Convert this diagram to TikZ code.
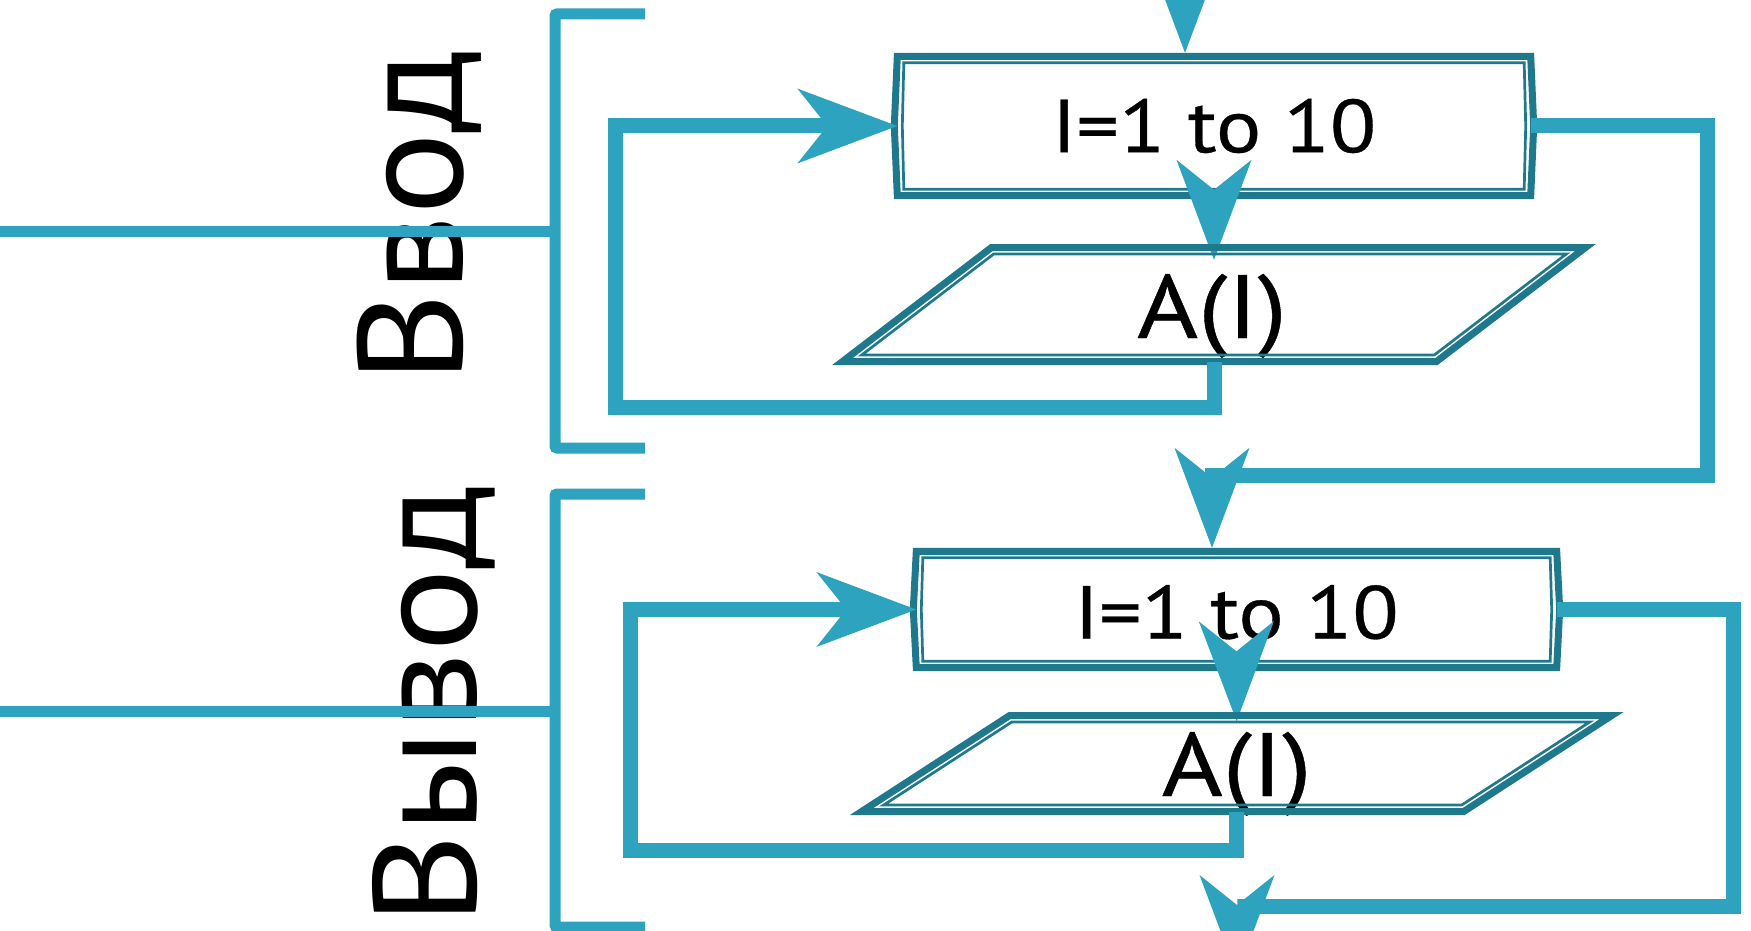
\documentclass[tikz,border=0pt]{standalone}
\usepackage{fontspec}
\usepackage{graphicx}
\setmainfont{PT Sans}
\usetikzlibrary{arrows.meta,calc}
\definecolor{flowblue}{RGB}{45,163,191}
\definecolor{framedark}{RGB}{31,121,140}
\newcommand{\widetext}[2]{\scalebox{#1}[1]{#2}}
\tikzset{
  flowline/.style={draw=flowblue, line width=15pt},
  flowarrow/.style={flowline, -{Stealth[length=100pt,width=75pt,inset=30pt,line width=0pt]}},
  bracketline/.style={draw=flowblue, line width=11pt},
  frameouter/.style={draw=framedark, line width=7pt},
  frameinner/.style={draw=framedark, line width=2.7pt},
  loopnode/.style={rectangle, inner sep=0pt, font=\fontsize{75}{80}\selectfont\addfontfeature{FakeBold=0.4}},
  ionode/.style={rectangle, inner sep=0pt, font=\fontsize{90}{92}\selectfont\addfontfeature{FakeBold=0.4}, text depth=0pt},
  sidelabel/.style={rotate=90, anchor=base, inner sep=0pt},
}
\begin{document}
\begin{tikzpicture}[x=1pt,y=-1pt]
\useasboundingbox (0,0) rectangle (1751,931);

% section captions
\node[sidelabel, xscale=1.04, font=\fontsize{149}{150}\selectfont] (inlabel) at (462,216.5) {Ввод};
\node[sidelabel, xscale=1.065, font=\fontsize{147}{150}\selectfont] (outlabel) at (476,705) {Вывод};

% loop headers and input/output blocks
\node[loopnode, minimum width=633pt, minimum height=139pt] (r1) at (1214,126) {\widetext{1.13}{I=1 to 10}};
\node[ionode, text height=67pt, minimum width=594pt, minimum height=114pt] (p1) at (1212,304.5) {\widetext{1.16}{A(I)}};
\node[loopnode, text height=59pt, minimum width=640pt, minimum height=116pt] (r2) at (1236.5,609.5) {\widetext{1.13}{I=1 to 10}};
\node[ionode, text height=65pt, minimum width=602pt, minimum height=96pt] (p2) at (1236.7,763.5) {\widetext{1.16}{A(I)}};

% first loop header frame
\draw[frameouter] (r1.north west) -- (r1.north east) -- ($(r1.east)+(3,0)$) -- (r1.south east)
  -- (r1.south west) -- ($(r1.west)+(-3,0)$) -- cycle;
\draw[frameinner] ($(r1.north west)+(6.5,6.5)$) -- ($(r1.north east)+(-6.5,6.5)$) -- ($(r1.east)+(-5,0)$)
  -- ($(r1.south east)+(-6.5,-6.5)$) -- ($(r1.south west)+(6.5,-6.5)$) -- ($(r1.west)+(5,0)$) -- cycle;
\draw[flowarrow] (r1.south) -- ($(r1.south |- p1.north)+(0,12.5)$);
% first input block
\draw[frameouter] ($(p1.center)+(-220.5,-57)$) -- ($(p1.center)+(373.5,-57)$)
  -- ($(p1.center)+(224.5,57)$) -- ($(p1.center)+(-369.5,57)$) -- cycle;
\draw[frameinner] ($(p1.center)+(-218.3,-50.5)$) -- ($(p1.center)+(354.3,-50.5)$)
  -- ($(p1.center)+(222.3,50.5)$) -- ($(p1.center)+(-350.3,50.5)$) -- cycle;

% second loop header frame
\draw[frameouter] (r2.north west) -- (r2.north east) -- ($(r2.east)+(3,0)$) -- (r2.south east)
  -- (r2.south west) -- ($(r2.west)+(-3,0)$) -- cycle;
\draw[frameinner] ($(r2.north west)+(6.5,6.5)$) -- ($(r2.north east)+(-6.5,6.5)$) -- ($(r2.east)+(-5,0)$)
  -- ($(r2.south east)+(-6.5,-6.5)$) -- ($(r2.south west)+(6.5,-6.5)$) -- ($(r2.west)+(5,0)$) -- cycle;
\draw[flowarrow] (r2.south) -- ($(p2.north)+(0,6)$);
% second output block
\draw[frameouter] ($(p2.center)+(-227,-48)$) -- ($(p2.center)+(375,-48)$)
  -- ($(p2.center)+(227,48)$) -- ($(p2.center)+(-375,48)$) -- cycle;
\draw[frameinner] ($(p2.center)+(-225,-41.5)$) -- ($(p2.center)+(353,-41.5)$)
  -- ($(p2.center)+(225,41.5)$) -- ($(p2.center)+(-353,41.5)$) -- cycle;

% flow lines
\coordinate (entry) at (1185,-80);
\draw[flowarrow] (entry) -- ($(entry |- r1.north)+(0,-3.5)$);

\coordinate (loop1) at (615,407);
\draw[flowarrow] (r1.south |- p1.south) |- (loop1) |- (r1.west);
\coordinate (exit1) at (1707,475);
\draw[flowarrow] (r1.east) -| (exit1) -| ($(r2.north)+(-24.5,-3.5)$);

\coordinate (loop2) at (630,850);
\draw[flowarrow] (p2.south) |- (loop2) |- (r2.west);
\coordinate (exit2) at (1733,906);
\coordinate (exitend) at (1237,975);
\draw[flowarrow] (r2.east) -| (exit2) -| (exitend);

% section brackets
\coordinate (b1top) at (645,14);
\coordinate (b1bot) at (645,448);
\coordinate (b1in) at (0,231);
\draw[bracketline, rounded corners=2pt] (b1top) -- (555,14) -- (555,448) -- (b1bot);
\draw[bracketline] (b1in) -- (555,231);

\coordinate (b2top) at (645,494);
\coordinate (b2bot) at (645,927);
\coordinate (b2in) at (0,711);
\draw[bracketline, rounded corners=2pt] (b2top) -- (555,494) -- (555,927) -- (b2bot);
\draw[bracketline] (b2in) -- (555,711);
\end{tikzpicture}
\end{document}
